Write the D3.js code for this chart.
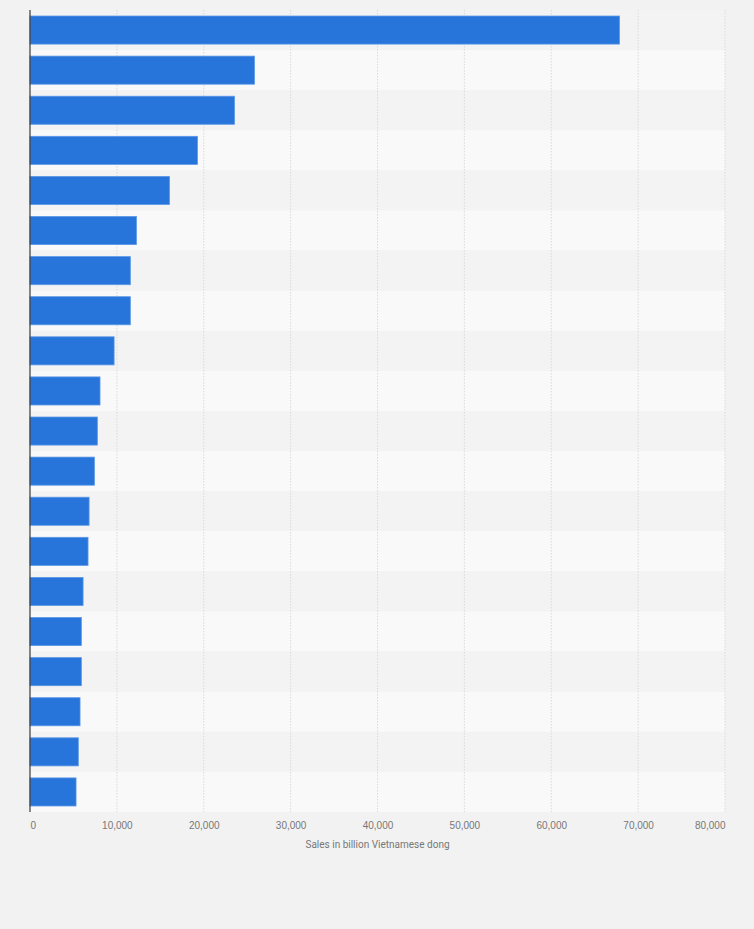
<!DOCTYPE html>
<html>
<head>
<meta charset="utf-8">
<script src="https://cdn.jsdelivr.net/npm/d3@7"></script>
<style>
  html, body { margin: 0; padding: 0; background: #f2f2f2; }
  svg { display: block; font-family: Roboto, "Noto Sans", sans-serif; }
</style>
</head>
<body>
<div id="chart"></div>
<script>
// ranks only, the original chart shows no category labels
const categories = ["1", "2", "3", "4", "5", "6", "7", "8", "9", "10",
  "11", "12", "13", "14", "15", "16", "17", "18", "19", "20"];
const sales = [67850, 25840, 23540, 19270, 16050, 12250, 11550, 11550, 9680, 8060,
  7750, 7410, 6800, 6680, 6110, 5910, 5910, 5760, 5560, 5300];
const xTicks = [0, 10000, 20000, 30000, 40000, 50000, 60000, 70000, 80000];
const xTitle = "Sales in billion Vietnamese dong";

const width = 754, height = 929;
const margin = { top: 10, right: 29, bottom: 117, left: 30 };
const innerW = width - margin.left - margin.right;
const innerH = height - margin.top - margin.bottom;

const svg = d3.select("#chart").append("svg")
  .attr("width", width)
  .attr("height", height);

const g = svg.append("g")
  .attr("transform", "translate(" + margin.left + "," + margin.top + ")");

const x = d3.scaleLinear().domain([0, 80000]).range([0, innerW]);
const y = d3.scaleBand().domain(categories).range([0, innerH]).paddingInner(0).paddingOuter(0);

// alternating row stripes
g.selectAll("rect.stripe")
  .data(categories)
  .enter().append("rect")
  .attr("class", "stripe")
  .attr("x", 0)
  .attr("y", d => y(d))
  .attr("width", innerW)
  .attr("height", y.bandwidth())
  .attr("fill", (d, i) => i % 2 ? "#f9f9f9" : "#f3f3f3");

// dotted gridlines
g.selectAll("line.grid")
  .data(xTicks.slice(1))
  .enter().append("line")
  .attr("class", "grid")
  .attr("x1", d => x(d)).attr("x2", d => x(d))
  .attr("y1", 0).attr("y2", innerH)
  .attr("stroke", "#dadada")
  .attr("stroke-width", 1)
  .attr("stroke-dasharray", "1.5,1.5");

// bars
const barPad = 0.15;
g.selectAll("rect.bar")
  .data(sales)
  .enter().append("rect")
  .attr("class", "bar")
  .attr("x", 0)
  .attr("y", (d, i) => y(categories[i]) + y.bandwidth() * barPad)
  .attr("width", d => x(d))
  .attr("height", y.bandwidth() * (1 - 2 * barPad))
  .attr("fill", "#2775db")
  .attr("stroke", "#5a97e6")
  .attr("stroke-width", 0.8);

// left axis line
g.append("line")
  .attr("x1", 0).attr("x2", 0)
  .attr("y1", 0).attr("y2", innerH)
  .attr("stroke", "#3a3a3a")
  .attr("stroke-width", 1.2);

// x tick labels
const xAxis = d3.axisBottom(x)
  .tickValues(xTicks)
  .tickSize(0)
  .tickPadding(10)
  .tickFormat(d3.format(","));

const ax = g.append("g")
  .attr("transform", "translate(0," + innerH + ")")
  .call(xAxis);
ax.select(".domain").remove();
ax.selectAll("text")
  .attr("fill", "#777")
  .style("font-size", "10px")
  .attr("text-anchor", (d, i) => i === 0 ? "start" : (i === xTicks.length - 1 ? "end" : "middle"));

// axis title
g.append("text")
  .attr("x", innerW / 2)
  .attr("y", innerH + 36)
  .attr("text-anchor", "middle")
  .attr("fill", "#777")
  .style("font-size", "10px")
  .text(xTitle);
</script>
</body>
</html>
